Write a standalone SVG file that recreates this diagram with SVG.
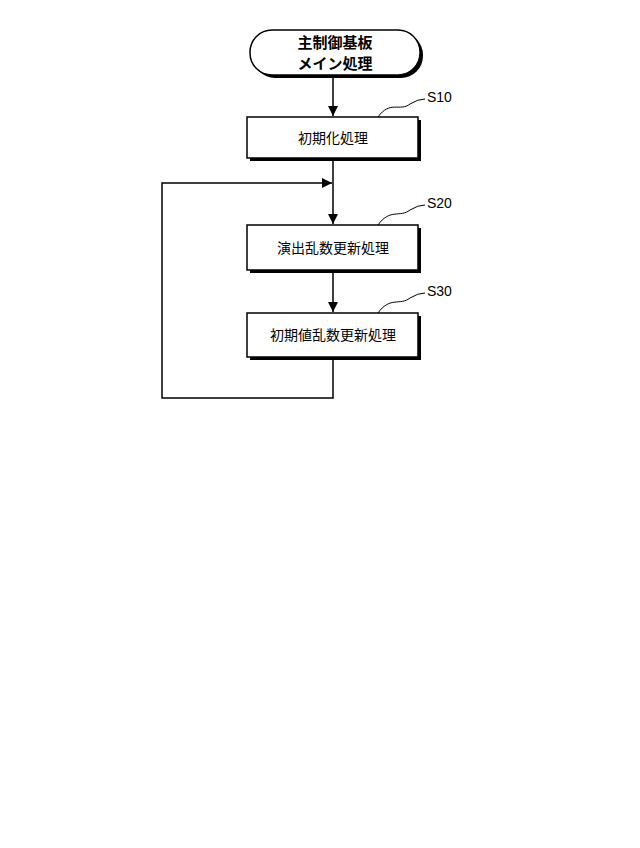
<svg xmlns="http://www.w3.org/2000/svg" width="640" height="848" viewBox="0 0 640 848">
<style>
.box{fill:#fff;stroke:#000;stroke-width:1.5}
.sh{fill:#000}
.t{font-family:"Noto Sans CJK JP",sans-serif;font-size:14px;text-anchor:middle}
.tb{font-family:"Noto Sans CJK JP",sans-serif;font-size:15px;font-weight:bold;text-anchor:middle}
.l{font-family:"Liberation Sans",sans-serif;font-size:14px}
.c{fill:none;stroke:#000;stroke-width:1.5}
.sq{fill:none;stroke:#000;stroke-width:1}
</style>
<defs><marker id="a" viewBox="0 0 10 10" refX="10" refY="5" markerWidth="10" markerHeight="10" markerUnits="userSpaceOnUse" orient="auto"><path d="M0,0L10,5L0,10z"/></marker></defs>
<rect width="640" height="848" fill="#fff"/>
<g id="start"><rect x="253" y="33" width="170" height="45" rx="22" class="sh"/><rect x="250" y="30" width="170" height="45" rx="22" class="box"/>
<text x="335" y="48" class="tb">主制御基板</text><text x="335" y="69" class="tb">メイン処理</text></g>
<g id="s10"><rect x="250" y="120" width="171" height="41" class="sh"/><rect x="247" y="117" width="171" height="41" class="box"/><text x="333" y="143" class="t">初期化処理</text>
<path class="sq" d="M378,117 C390,100 400,112 410,104 Q418,99 425,99"/><text x="427" y="102" class="l">S10</text></g>
<g id="s20"><rect x="250" y="228" width="171" height="45" class="sh"/><rect x="247" y="225" width="171" height="45" class="box"/><text x="333" y="253" class="t">演出乱数更新処理</text>
<path class="sq" d="M378,225 C390,208 400,218 410,210 Q418,205 425,205"/><text x="427" y="208" class="l">S20</text></g>
<g id="s30"><rect x="250" y="316" width="171" height="44" class="sh"/><rect x="247" y="313" width="171" height="44" class="box"/><text x="333" y="340" class="t">初期値乱数更新処理</text>
<path class="sq" d="M378,313 C390,296 400,306 410,298 Q418,293 425,293"/><text x="427" y="296" class="l">S30</text></g>
<g id="connectors">
<line x1="333" y1="78" x2="333" y2="116" class="c" marker-end="url(#a)"/>
<line x1="333" y1="161" x2="333" y2="224" class="c" marker-end="url(#a)"/>
<line x1="333" y1="273" x2="333" y2="312" class="c" marker-end="url(#a)"/>
<polyline points="333,360 333,398 162,398 162,183 332,183" class="c" marker-end="url(#a)"/>
</g>
</svg>
